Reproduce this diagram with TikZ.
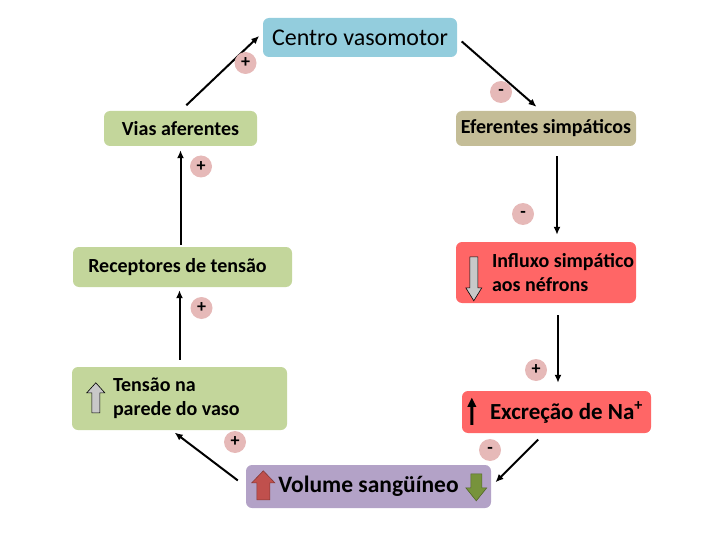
\documentclass[tikz,border=0pt]{standalone}
\usepackage{fontspec}
\setmainfont{Carlito}
\usetikzlibrary{arrows.meta, positioning}
\definecolor{blue1}{RGB}{147,205,221}
\definecolor{green1}{RGB}{195,214,155}
\definecolor{tan1}{RGB}{196,189,151}
\definecolor{red1}{RGB}{255,102,102}
\definecolor{purple1}{RGB}{179,162,199}
\definecolor{pink1}{RGB}{230,185,184}
\definecolor{grey1}{RGB}{200,200,200}
\definecolor{red2}{RGB}{192,80,77}
\definecolor{green2}{RGB}{119,147,60}

\tikzset{
  box/.style={rounded corners=6pt, inner sep=0pt, align=center, font=\bfseries\fontsize{20}{24}\selectfont},
  bigbox/.style={box, font=\bfseries\fontsize{23.5}{26}\selectfont},
  sign/.style={circle, fill=pink1, minimum size=22pt, inner sep=0pt, font=\bfseries\fontsize{18}{18}\selectfont},
  link/.style={line width=2pt, -{Latex[length=8pt,width=7pt]}},
  icon/.style={line width=0.6pt, line join=miter},
}

\begin{document}
\begin{tikzpicture}[x=1pt, y=-1pt]
  \useasboundingbox (0,0) rectangle (720,540);

  \node[box, fill=blue1, minimum width=194pt, minimum height=39pt, font=\fontsize{24}{26}\selectfont] (centro) at (360,37.5) {Centro vasomotor};
  \node[box, fill=green1, minimum width=153pt, minimum height=35pt] (vias) at (180.5,128.5) {Vias aferentes};
  \node[box, fill=tan1, minimum width=180pt, minimum height=35pt] (eferentes) at (546,128.5) {Eferentes simpáticos};
  \node[box, fill=green1, minimum width=219pt, minimum height=40pt] (receptores) at (182.5,267) {Receptores de tensão\hspace*{10pt}};
  \node[box, fill=red1, minimum height=61pt] (influxo) at (546,272.5) {\hspace*{36pt}\parbox{144pt}{\raggedright Influxo simpático\\aos néfrons}};
  \node[box, fill=green1, minimum height=63pt] (tensao) at (179.5,398.5) {\hspace*{41pt}\parbox{174pt}{\raggedright Tensão na\\parede do vaso}};
  \node[bigbox, fill=red1, minimum height=42pt, font=\bfseries\fontsize{23}{26}\selectfont] (excrecao) at (556.5,412) {\hspace*{28pt}\parbox{161pt}{\raggedright Excreção de Na\textsuperscript{+}}};
  \node[bigbox, fill=purple1, minimum width=245pt, minimum height=43pt] (volume) at (368.5,486.5) {Volume sangüíneo};

  % icons inside the boxes
  \draw[icon, fill=grey1, shift={(influxo.north west)}] (14,15) -- (22,15) -- (22,46) -- (26,46) -- (18,59) -- (10,46) -- (14,46) -- cycle;
  \draw[icon, fill=grey1, shift={(tensao.north west)}] (20,46) -- (28,46) -- (28,26) -- (33,26) -- (24,16) -- (15,26) -- (20,26) -- cycle;
  \fill[shift={(excrecao.north west)}] (8.5,34) -- (11.5,34) -- (11.5,16) -- (14.5,16) -- (10,7) -- (5.5,16) -- (8.5,16) -- cycle;
  \draw[icon, draw=red2!70!black, fill=red2, shift={(volume.north west)}] (11,35) -- (24,35) -- (24,18) -- (29,18) -- (17.5,6) -- (6,18) -- (11,18) -- cycle;
  \draw[icon, draw=green2!70!black, fill=green2, shift={(volume.north west)}] (225,9) -- (236,9) -- (236,23) -- (241,23) -- (230.5,36) -- (220,23) -- (225,23) -- cycle;

  % connectors
  \draw[link, shorten <=8pt, shorten >=5pt] (vias.north) -- ([yshift=5pt]centro.west);
  \draw[link, shorten <=6pt, shorten >=6pt] (centro.east) -- ([xshift=-5pt]eferentes.north);
  \draw[link, shorten <=10pt, shorten >=7pt] ([xshift=11pt]eferentes.south) -- ([xshift=11pt]influxo.north);
  \draw[link, shorten <=12pt, shorten >=8pt] ([xshift=12pt]influxo.south) -- ([xshift=1.5pt]excrecao.north);
  \draw[link, shorten <=9pt, shorten >=6pt] ([xshift=-12pt]excrecao.south) -- (volume.east);
  \draw[link, shorten <=10pt, shorten >=4pt] (volume.west) -- ([xshift=-8pt]tensao.south);
  \draw[link, shorten <=7pt, shorten >=3pt] (tensao.north) -- (tensao.north |- receptores.south);
  \draw[link, shorten <=2pt, shorten >=4pt] (receptores.north -| vias.south) -- (vias.south);

  % signs
  \node[sign] (s1) at (245.5,63) {+};
  \node[sign] (s2) at (501,92) {-};
  \node[sign] (s3) at (201,166.5) {+};
  \node[sign] (s4) at (523,214) {-};
  \node[sign] (s5) at (201.5,308) {+};
  \node[sign] (s6) at (536,370) {+};
  \node[sign] (s7) at (235,442) {+};
  \node[sign] (s8) at (490,450) {-};
\end{tikzpicture}
\end{document}
